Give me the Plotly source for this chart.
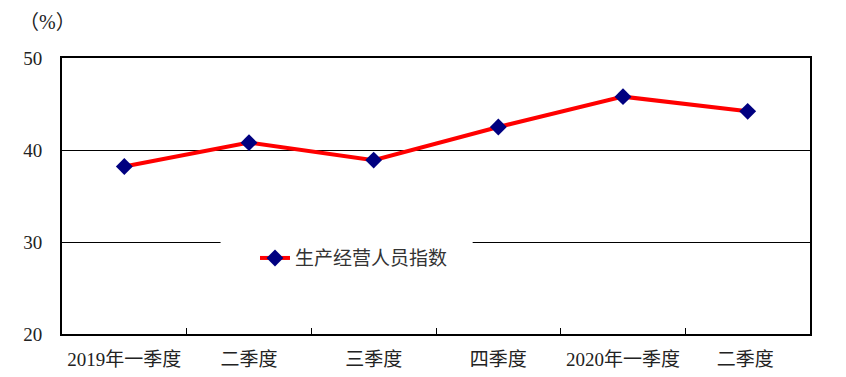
import plotly.graph_objects as go

categories = ["2019年一季度", "二季度", "三季度", "四季度", "2020年一季度", "二季度 "]
values = [38.2, 40.8, 38.9, 42.5, 45.8, 44.2]
series_name = "生产经营人员指数"
y_ticks = [20, 30, 40, 50]

FONT = "Liberation Serif, Noto Sans CJK SC, serif"

fig = go.Figure()
fig.add_trace(go.Scatter(
    x=categories, y=values, name=series_name, mode="lines+markers",
    line=dict(color="#ff0000", width=4),
    marker=dict(symbol="diamond", size=13, color="#000080"),
))

# page body has an 8px default margin, so the figure is 8px smaller and shifted
fig.update_layout(
    width=838, height=369,
    margin=dict(l=54, r=36, t=50, b=43, autoexpand=False),
    paper_bgcolor="white", plot_bgcolor="white",
    font=dict(family=FONT, size=19, color="#222"),
    showlegend=True,
    legend=dict(x=0.258, y=0.275, xanchor="left", yanchor="middle",
                bgcolor="rgba(0,0,0,0)", font=dict(size=19, color="#333")),
    xaxis=dict(type="category", range=[-0.5, len(categories) - 0.5],
               showline=True, linecolor="black", linewidth=2,
               mirror=True, ticks="inside", tickson="boundaries", ticklen=6,
               tickcolor="black", showgrid=False, ticklabelstandoff=7,
               automargin=False, tickfont=dict(size=19, color="#222")),
    yaxis=dict(range=[20, 50], tickvals=y_ticks, showline=True, linecolor="black",
               linewidth=2, mirror=True, ticks="", showgrid=True, gridcolor="black",
               gridwidth=1, zeroline=False, ticklabelstandoff=14, automargin=False,
               tickfont=dict(size=19, color="#222")),
    shapes=[dict(type="rect", xref="paper", yref="paper", x0=0.212, x1=0.549,
                 y0=0.18, y1=0.36, fillcolor="white", line=dict(width=0),
                 layer="above")],
    annotations=[dict(text="（%）", xref="paper", yref="paper", x=-0.019, y=1.13,
                      xanchor="center", yanchor="middle", showarrow=False,
                      font=dict(size=20, color="#222"))],
)

fig.write_html("out.html")
